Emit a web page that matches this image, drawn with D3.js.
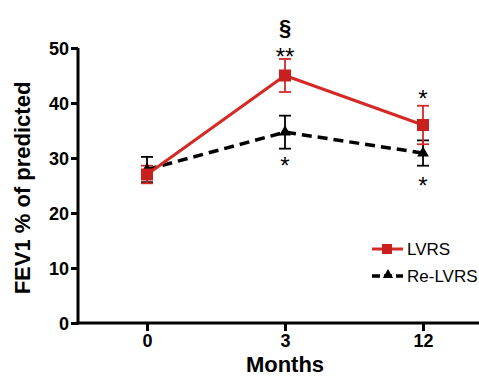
<!DOCTYPE html>
<html><head><meta charset="utf-8">
<script src="https://cdn.jsdelivr.net/npm/d3@7"></script>
<style>body{margin:0;background:#fff}svg{display:block}</style>
</head><body>
<script>
const categories = ["0","3","12"];
const lvrs = [27.0, 45.0, 36.0];
const lvrsErr = [1.6, 3.0, 3.5];
const relvrs = [27.9, 34.7, 30.9];
const relvrsErr = [2.3, 3.0, 2.3];
const yTicks = [0,10,20,30,40,50];
const annotations = [
  {cat:"3", val:52.4, text:"§", size:22, weight:"bold"},
  {cat:"3", val:46.9, text:"**", size:24, weight:"normal"},
  {cat:"3", val:27.1, text:"*", size:24, weight:"normal"},
  {cat:"12", val:39.3, text:"*", size:24, weight:"normal"},
  {cat:"12", val:23.4, text:"*", size:24, weight:"normal"}
];

const W=479,H=378;
const svg=d3.select("body").append("svg").attr("width",W).attr("height",H);
const x=d3.scalePoint().domain(categories).range([147,423]);
const y=d3.scaleLinear().domain([0,50]).range([323,48]);
const font="Arial, Liberation Sans, sans-serif";

// axes
const ya=svg.append("g").attr("transform","translate(78,0)")
  .call(d3.axisLeft(y).tickValues(yTicks).tickSize(7).tickPadding(2));
ya.select(".domain").attr("stroke","#000").attr("stroke-width",3).attr("d","M0,"+y(50)+"V"+(y(0)+1.5));
ya.selectAll(".tick line").attr("stroke","#000").attr("stroke-width",3);
ya.selectAll(".tick text").attr("font-family",font).attr("font-weight","bold").attr("font-size",18).attr("fill","#000").attr("dy","0.34em");

const xa=svg.append("g").attr("transform","translate(0,323)")
  .call(d3.axisBottom(x).tickSize(8).tickPadding(3));
xa.select(".domain").attr("stroke","#000").attr("stroke-width",3).attr("d","M76.5,0H479");
xa.selectAll(".tick line").attr("stroke","#000").attr("stroke-width",3);
xa.selectAll(".tick text").attr("font-family",font).attr("font-weight","bold").attr("font-size",18).attr("fill","#000");

svg.append("text").attr("x",285).attr("y",372).attr("text-anchor","middle")
  .attr("font-family",font).attr("font-weight","bold").attr("font-size",22).text("Months");
svg.append("text").attr("transform","translate(30,188) rotate(-90)").attr("text-anchor","middle")
  .attr("font-family",font).attr("font-weight","bold").attr("font-size",22).text("FEV1 % of predicted");

function errBars(vals,errs,color){
  const g=svg.append("g").attr("stroke",color).attr("stroke-width",1.8);
  vals.forEach((v,i)=>{
    const cx=x(categories[i]);
    g.append("line").attr("x1",cx).attr("x2",cx).attr("y1",y(v+errs[i])).attr("y2",y(v-errs[i]));
    [v+errs[i],v-errs[i]].forEach(e=>g.append("line").attr("x1",cx-6).attr("x2",cx+6).attr("y1",y(e)).attr("y2",y(e)));
  });
}
const line=d3.line().x((d,i)=>x(categories[i])).y(d=>y(d));

// Re-LVRS
errBars(relvrs,relvrsErr,"#000");
svg.append("path").datum(relvrs).attr("d",line).attr("fill","none").attr("stroke","#000")
  .attr("stroke-width",3.5).attr("stroke-dasharray","10,6");
// LVRS
errBars(lvrs,lvrsErr,"#d42a26");
svg.append("path").datum(lvrs).attr("d",line).attr("fill","none").attr("stroke","#d42a26").attr("stroke-width",3);
const tri=d3.symbol().type(d3.symbolTriangle).size(60);
svg.selectAll(".tri").data(relvrs).enter().append("path").attr("d",tri)
  .attr("transform",(d,i)=>`translate(${x(categories[i])},${y(d)})`).attr("fill","#000");
svg.selectAll(".sq").data(lvrs).enter().append("rect")
  .attr("x",(d,i)=>x(categories[i])-6).attr("y",d=>y(d)-6).attr("width",12).attr("height",12).attr("fill","#c8201f");

// annotations
svg.selectAll(".ann").data(annotations).enter().append("text")
  .attr("x",d=>x(d.cat)).attr("y",d=>y(d.val)).attr("text-anchor","middle")
  .attr("font-family",font).attr("font-size",d=>d.size).attr("font-weight",d=>d.weight).attr("fill","#000").text(d=>d.text);

// legend
const lg=svg.append("g");
lg.append("line").attr("x1",372).attr("x2",403).attr("y1",249).attr("y2",249).attr("stroke","#d42a26").attr("stroke-width",3);
lg.append("rect").attr("x",382).attr("y",244).attr("width",10).attr("height",10).attr("fill","#c8201f");
lg.append("text").attr("x",407).attr("y",255).attr("font-family",font).attr("font-size",17).text("LVRS");
lg.append("line").attr("x1",372).attr("x2",403).attr("y1",276).attr("y2",276).attr("stroke","#000").attr("stroke-width",3.5).attr("stroke-dasharray","8,4");
lg.append("path").attr("d",d3.symbol().type(d3.symbolTriangle).size(45)).attr("transform","translate(388,275)").attr("fill","#000");
lg.append("text").attr("x",407).attr("y",282).attr("font-family",font).attr("font-size",17).text("Re-LVRS");
</script>
</body></html>
